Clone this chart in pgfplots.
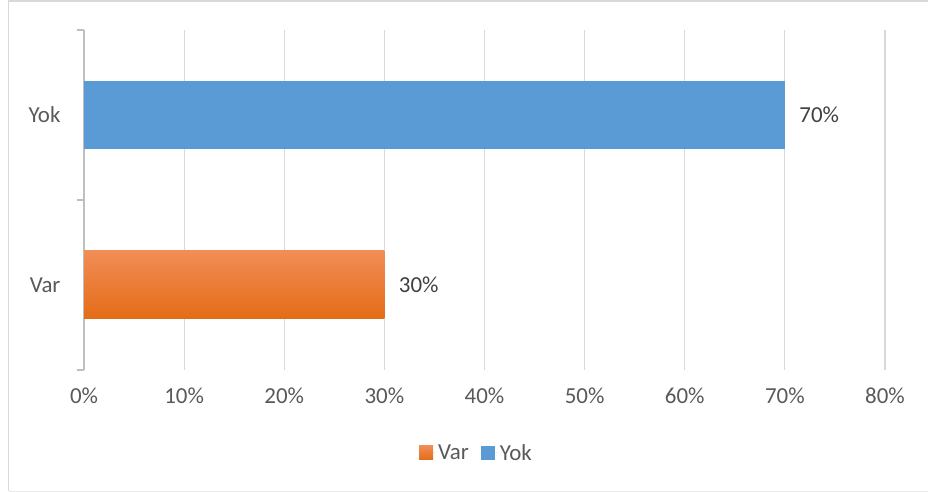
\documentclass[border=0pt]{standalone}
\usepackage{pgfplots}
\pgfplotsset{compat=1.18}
\usepackage{fontspec}
\setmainfont{Carlito}
\definecolor{txt}{HTML}{595959}
\definecolor{lbl}{HTML}{404040}
\definecolor{grid}{HTML}{D9D9D9}
\definecolor{axl}{HTML}{BFBFBF}
\definecolor{blu}{HTML}{5B9BD5}
\definecolor{orT}{HTML}{F18D55}
\definecolor{orB}{HTML}{E46C17}
\begin{document}
\begin{tikzpicture}[x=1bp,y=1bp]
\useasboundingbox (0,0) rectangle (928,492);
\draw[color=grid,line width=1.2bp] (8.5,0.5) -- (8.5,491) -- (930,491);
\draw[color=grid!60,line width=1bp] (8.5,0.8) -- (930,0.8);
\begin{axis}[
  at={(84bp,122bp)}, anchor=south west,
  scale only axis, width=801bp, height=340bp,
  xmin=0, xmax=80, ymin=-0.5, ymax=1.5,
  xtick={0,10,...,80},
  xticklabel={\pgfmathprintnumber{\tick}\%},
  /pgf/number format/assume math mode=true,
  ytick={0,1}, yticklabels={Var,Yok},
  major tick length=0pt,
  xmajorgrids, major grid style={color=grid,line width=1.2bp},
  axis y line*=left, axis x line*=bottom,
  x axis line style={draw=none},
  y axis line style={color=axl,line width=1.2bp,-},
  extra y ticks={-0.5,0.5,1.5}, extra y tick labels={},
  extra y tick style={major tick length=7bp, tick align=outside, tick style={color=axl,line width=1.2bp}, ymajorgrids=false},
  tick label style={font=\fontsize{23}{27}\selectfont, text=txt},
  xticklabel style={yshift=-14bp},
  yticklabel style={xshift=-20bp},
  nodes near coords={\pgfmathprintnumber{\pgfplotspointmeta}\%},
  point meta=x,
  nodes near coords style={font=\fontsize{23}{27}\selectfont, text=lbl, anchor=west, xshift=11bp},
  legend columns=2,
  legend style={at={(0.49,-0.244)}, anchor=center, draw=none, fill=none,
    font=\fontsize{23}{27}\selectfont, text=txt,
    /tikz/every even column/.append style={column sep=10bp}},
  legend image code/.code={\fill[#1] (0bp,-7bp) rectangle (14bp,7bp); \path (0bp,0bp) -- (17bp,0bp);},
]
\addplot[xbar, bar width=68bp, bar shift=0pt, draw=none, top color=orT, bottom color=orB, fill=orB]
  coordinates {(30,0)};
\addlegendentry{Var}
\addplot[xbar, bar width=68bp, bar shift=0pt, draw=none, fill=blu]
  coordinates {(70,1)};
\addlegendentry{Yok}
\end{axis}
\end{tikzpicture}
\end{document}
